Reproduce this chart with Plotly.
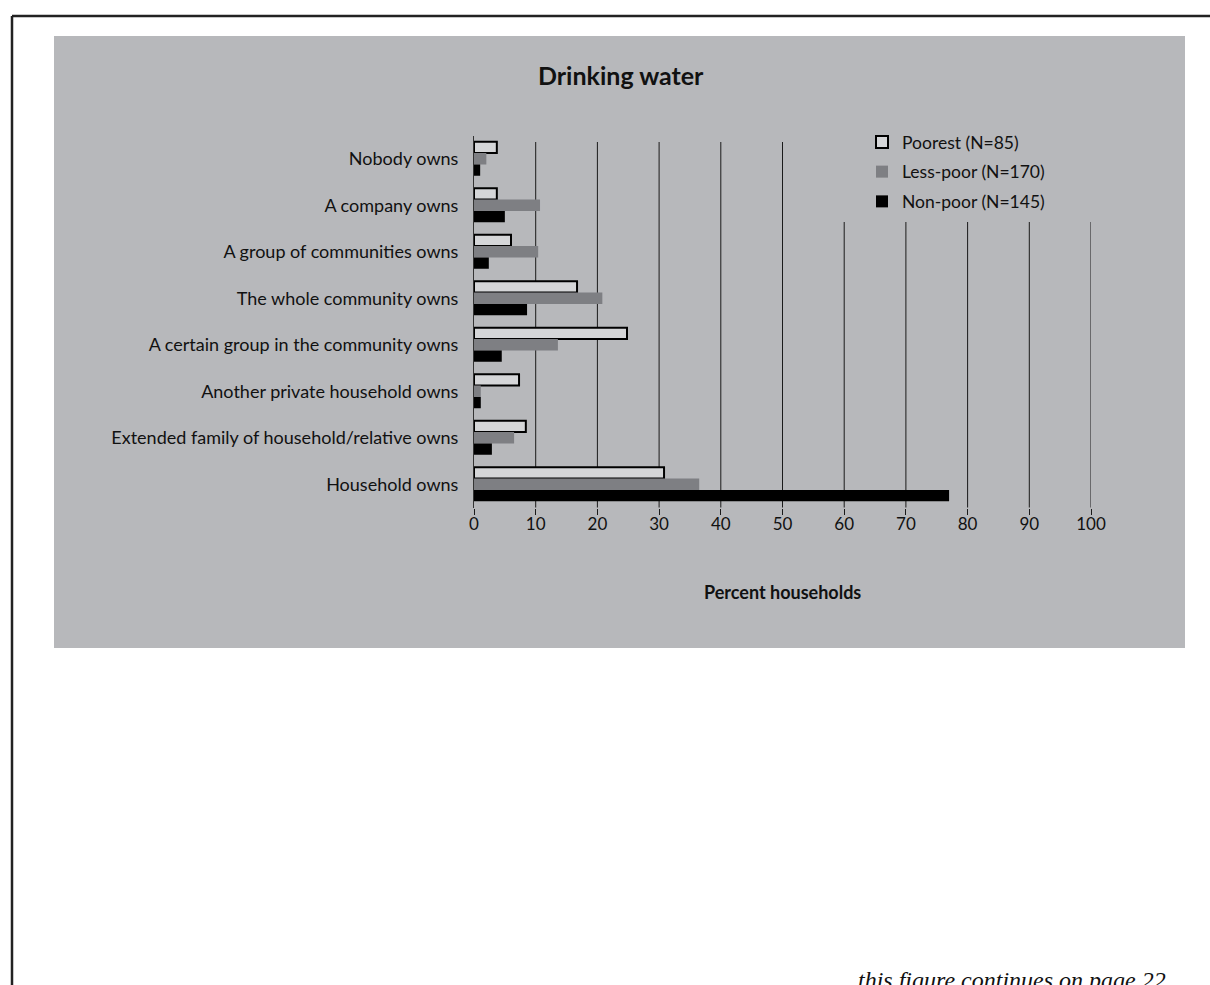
import plotly.graph_objects as go

categories = [
    "Nobody owns",
    "A company owns",
    "A group of communities owns",
    "The whole community owns",
    "A certain group in the community owns",
    "Another private household owns",
    "Extended family of household/relative owns",
    "Household owns",
]
poorest = [3.7, 3.7, 6.0, 16.7, 24.8, 7.3, 8.4, 30.8]
less_poor = [2.0, 10.7, 10.4, 20.8, 13.6, 1.1, 6.5, 36.5]
non_poor = [1.0, 5.0, 2.4, 8.6, 4.5, 1.1, 2.9, 77.0]
series_names = ["Poorest (N=85)", "Less-poor (N=170)", "Non-poor (N=145)"]
x_ticks = [0, 10, 20, 30, 40, 50, 60, 70, 80, 90, 100]

W, H = 1210, 985
FONT = "Lato, 'Open Sans', sans-serif"
PANEL = "#b7b8bb"

def px(xp):
    return xp / W

def py(yp):
    return 1 - yp / H

fig = go.Figure()
fig.add_trace(go.Bar(
    y=categories, x=poorest, name=series_names[0], orientation="h",
    marker=dict(color="#d5d6d8", line=dict(color="#000000", width=2)),
    legendgroup="a",
))
fig.add_trace(go.Bar(
    y=categories, x=less_poor, name=series_names[1], orientation="h",
    marker=dict(color="#7e7f83", line=dict(width=0)),
    legendgroup="b",
))
fig.add_trace(go.Bar(
    y=categories, x=non_poor, name=series_names[2], orientation="h",
    marker=dict(color="#000000", line=dict(width=0)),
    legendgroup="c",
))

plot_top, plot_bottom = 135.5, 507.5
plot_left, plot_right = 474, 1091

shapes = [
    # gray panel
    dict(type="rect", xref="paper", yref="paper", x0=px(54), x1=px(1185), y0=py(648), y1=py(36),
         fillcolor=PANEL, line=dict(width=0), layer="below"),
    # page border lines
    dict(type="line", xref="paper", yref="paper", x0=px(12), x1=px(1210), y0=py(16), y1=py(16),
         line=dict(color="#222222", width=2.5), layer="above"),
    dict(type="line", xref="paper", yref="paper", x0=px(12), x1=px(12), y0=py(16), y1=py(985),
         line=dict(color="#222222", width=2.5), layer="above"),
]

# vertical gridlines (the legend box hides their upper part from 60 onwards)
for v in x_ticks[1:]:
    top = 142 if v <= 50 else 222
    shapes.append(dict(type="line", xref="x", yref="paper", x0=v, x1=v,
                       y0=py(plot_bottom), y1=py(top),
                       line=dict(color="#1a1a1a", width=1), layer="below"))

annotations = [
    dict(text="<b>Drinking water</b>", xref="paper", yref="paper", x=px(621), y=py(75),
         xanchor="center", yanchor="middle", showarrow=False,
         font=dict(family=FONT, size=25, color="#111111")),
    dict(text="<b>Percent households</b>", xref="paper", yref="paper", x=px(782.5), y=py(592),
         xanchor="center", yanchor="middle", showarrow=False,
         font=dict(family=FONT, size=18, color="#111111")),
    dict(text="<i>this figure continues on page 22</i>", xref="paper", yref="paper", x=px(1168), y=py(980),
         xanchor="right", yanchor="middle", showarrow=False,
         font=dict(family="'Liberation Serif', 'DejaVu Serif', serif", size=24, color="#111111")),
]

fig.update_layout(
    width=W, height=H,
    margin=dict(l=0, r=0, t=0, b=0, autoexpand=False),
    paper_bgcolor="white",
    plot_bgcolor="rgba(0,0,0,0)",
    barmode="group",
    bargap=0.27,
    bargroupgap=0,
    font=dict(family=FONT, size=18, color="#111111"),
    xaxis=dict(
        domain=[px(plot_left), px(plot_right)],
        range=[0, 100], tickvals=x_ticks, ticktext=[str(v) for v in x_ticks],
        showgrid=False, automargin=False,
        ticks="outside", ticklen=6, tickcolor="#1a1a1a",
        zeroline=False, showline=False,
        ticklabelstandoff=-5,
        tickfont=dict(family=FONT, size=17, color="#111111"),
        fixedrange=True,
    ),
    yaxis=dict(
        domain=[py(plot_bottom), py(plot_top)],
        categoryorder="array", categoryarray=categories,
        range=[7.5, -0.5], automargin=False,
        showgrid=False, zeroline=False,
        showline=True, linecolor="#333333", linewidth=1,
        ticks="", ticklabelstandoff=11,
        tickfont=dict(family=FONT, size=18, color="#111111"),
        fixedrange=True,
    ),
    legend=dict(
        x=px(862), y=py(124), xanchor="left", yanchor="top",
        bgcolor="rgba(0,0,0,0)", borderwidth=0,
        font=dict(family=FONT, size=17.5, color="#111111"),
        tracegroupgap=4, traceorder="grouped",
        itemwidth=30,
    ),
    shapes=shapes,
    annotations=annotations,
)

fig.write_html(
    "out.html",
    config={"displayModeBar": False, "responsive": False},
    post_script=(
        "document.documentElement.style.margin='0';"
        "document.documentElement.style.overflow='hidden';"
        "document.body.style.margin='0';"
        "document.body.style.overflow='hidden';"
    ),
)
